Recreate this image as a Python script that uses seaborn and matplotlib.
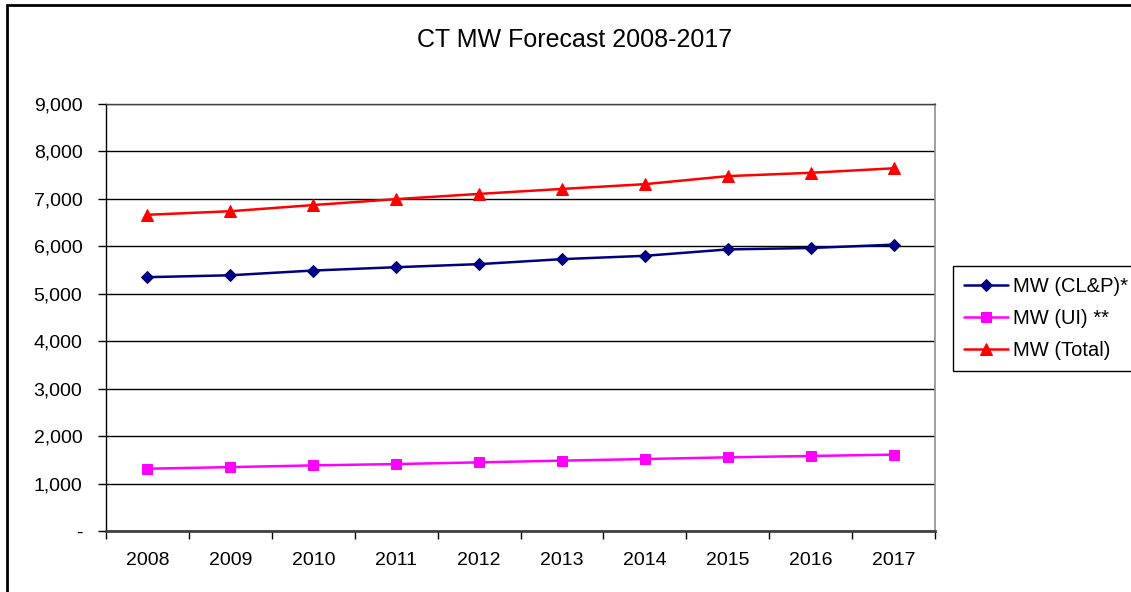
import numpy as np
import pandas as pd
import matplotlib
matplotlib.use("Agg")
import matplotlib.pyplot as plt
import seaborn as sns
from matplotlib.ticker import FuncFormatter, FixedLocator
from matplotlib.patches import Rectangle

# values
years = ["2008", "2009", "2010", "2011", "2012", "2013", "2014", "2015", "2016", "2017"]
mw_clp = [5350, 5390, 5490, 5560, 5625, 5730, 5800, 5935, 5965, 6035]
mw_ui = [1313, 1347, 1383, 1411, 1447, 1483, 1517, 1553, 1581, 1610]
mw_total = [6665, 6740, 6870, 6995, 7105, 7210, 7310, 7480, 7550, 7645]

series_names = ["MW (CL&P)*", "MW (UI) **", "MW (Total)"]
series_colors = ["#000080", "#FF00FF", "#FF0000"]
series_markers = ["D", "s", "^"]
marker_sizes = [6, 7, 8]

df = pd.DataFrame({
    "pos": list(range(len(years))) * 3,
    "value": mw_clp + mw_ui + mw_total,
    "series": [s for s in series_names for _ in years],
})

sns.set_style("white")
plt.rcParams["font.family"] = ["Liberation Sans", "DejaVu Sans"]
plt.rcParams["text.color"] = "black"
plt.rcParams["xtick.color"] = "black"
plt.rcParams["ytick.color"] = "black"

fig = plt.figure(figsize=(11.31, 5.92), dpi=100)
ax = fig.add_axes([106 / 1131, 1 - 531 / 592, (935 - 106) / 1131, (531 - 104) / 592])

for name, color, marker, ms in zip(series_names, series_colors, series_markers, marker_sizes):
    sub = df[df["series"] == name]
    sns.lineplot(data=sub, x="pos", y="value", ax=ax, color=color, marker=marker,
                 markersize=ms, markeredgecolor=color, linewidth=1.8, label=name,
                 zorder=3)

ax.set_xlim(-0.5, len(years) - 0.5)
ax.set_ylim(0, 9000)
ax.set_xlabel("")
ax.set_ylabel("")

# category labels centred, tick marks between categories
ax.set_xticks(range(len(years)))
ax.set_xticklabels(years, fontsize=14)
ax.xaxis.set_minor_locator(FixedLocator(np.arange(-0.5, len(years), 1.0)))
ax.tick_params(axis="x", which="major", bottom=True, length=0, pad=15)
ax.tick_params(axis="x", which="minor", bottom=True, length=6, width=1,
               color="black", direction="out")

ax.set_yticks(np.arange(0, 9001, 1000))
ax.yaxis.set_major_formatter(FuncFormatter(lambda v, p: "-" if v == 0 else f"{int(v):,}"))
ax.tick_params(axis="y", left=True, length=6, width=1, color="black", direction="out",
               labelsize=14, pad=11)

ax.grid(axis="y", color="black", linewidth=1.0)
ax.set_axisbelow(True)
for side in ["left", "right", "top", "bottom"]:
    ax.spines[side].set_visible(True)
ax.spines["left"].set_color("black")
ax.spines["left"].set_linewidth(1.0)
ax.spines["bottom"].set_color("#404040")
ax.spines["bottom"].set_linewidth(2.0)
ax.spines["right"].set_color("#909090")
ax.spines["right"].set_linewidth(1.2)
ax.spines["top"].set_color("#404040")
ax.spines["top"].set_linewidth(1.0)

leg = ax.legend(loc="upper left", bbox_to_anchor=(953 / 1131, 1 - 266 / 592),
                bbox_transform=fig.transFigure, fontsize=14.5, frameon=True,
                fancybox=False, edgecolor="black", framealpha=1, borderpad=0.55,
                handlelength=2.2, handletextpad=0.25, labelspacing=0.65,
                borderaxespad=0)
leg.get_frame().set_linewidth(1.0)

fig.text(575 / 1131, 1 - 40 / 592, "CT MW Forecast 2008-2017", ha="center", va="center",
         fontsize=18)

# outer chart border (right and bottom fall outside the image)
fig.patches.append(Rectangle((7 / 1131, -0.05), 1.2, 1 - 5 / 592 + 0.05,
                             transform=fig.transFigure, fill=False,
                             edgecolor="black", linewidth=2.0))

fig.savefig("out.png", dpi=100)
